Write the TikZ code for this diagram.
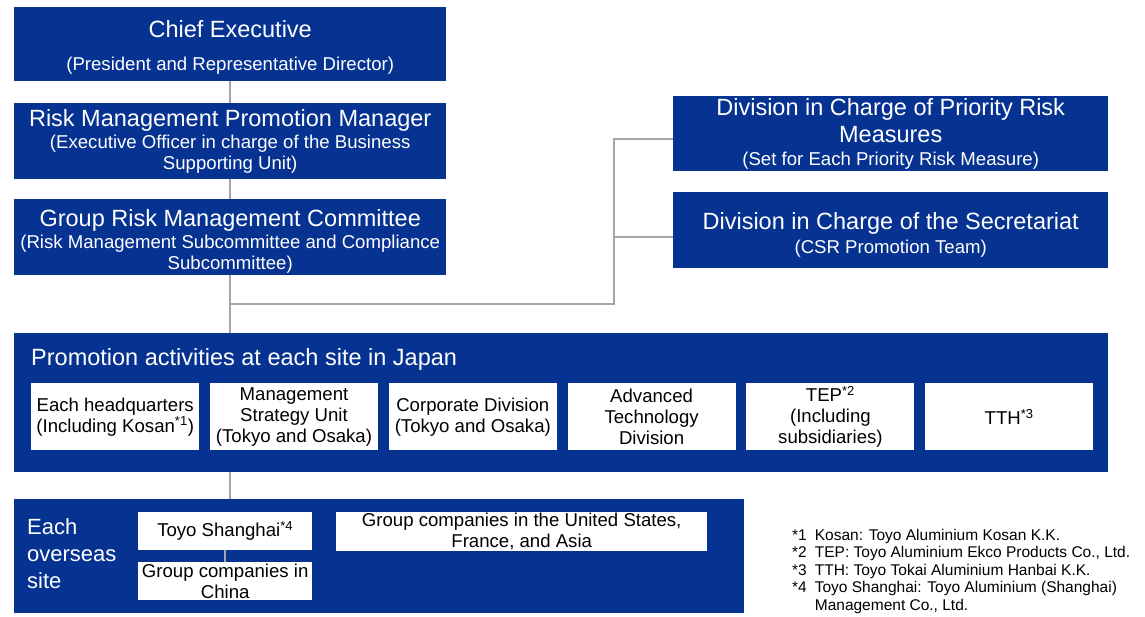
\documentclass[tikz,border=0pt]{standalone}
\usepackage{fontspec}
\setmainfont{Liberation Sans}
\usetikzlibrary{positioning}
\definecolor{riskblue}{RGB}{6,50,145}
\definecolor{linkgray}{RGB}{166,166,166}
\newcommand{\headfont}{\fontsize{23.5}{28}\selectfont}
\newcommand{\subfont}{\fontsize{18.6}{21}\selectfont}
\newcommand{\notefont}{\fontsize{15.5}{17.5}\selectfont}
% taller first line, pushes the text block down inside its box
\newcommand{\topstrut}[1]{\rule{0pt}{#1}}

\begin{document}
\begin{tikzpicture}[x=1pt, y=-1pt,
    bluebox/.style={fill=riskblue, text=white, inner sep=1pt, align=center,
        font=\subfont, anchor=north west},
    whitebox/.style={fill=white, text=black, inner sep=1pt, align=center,
        font=\subfont, anchor=north west},
    unitbox/.style={whitebox, minimum width=168pt, minimum height=67pt},
    link/.style={draw=linkgray, line width=2pt}]
\useasboundingbox (0,0) rectangle (1145,616);
    % management chain
    \node[bluebox, minimum width=432pt, minimum height=74pt] (chief) at (14,7)
        {{\headfont\topstrut{23pt}Chief Executive}\\[12pt](President and Representative Director)};
    \node[bluebox, minimum width=432pt, minimum height=76pt] (riskmgr) at (14,103)
        {{\headfont Risk Management Promotion Manager}\\[1pt]
         (Executive Officer in charge of the Business\\Supporting Unit)};
    \node[bluebox, minimum width=432pt, minimum height=76pt] (committee) at (14,199)
        {{\headfont\topstrut{26pt}Group Risk Management Committee}\\[1pt]
         (Risk Management Subcommittee and Compliance\\Subcommittee)};
    % divisions on the right
    \node[bluebox, minimum width=435pt, minimum height=75pt] (prioritydiv) at (673,96)
        {{\headfont Division in Charge of Priority Risk}\\[5pt]
         {\headfont Measures}\\[2pt](Set for Each Priority Risk Measure)};
    \node[bluebox, minimum width=435pt, minimum height=76pt] (secretariat) at (673,192)
        {{\headfont\topstrut{27pt}Division in Charge of the Secretariat}\\[3pt](CSR Promotion Team)};
    % sites in Japan
    \node[bluebox, minimum width=1094pt, minimum height=139pt] (japan) at (14,333) {};
    \node[text=white, font=\headfont, inner sep=0pt, anchor=north west] (japantitle)
        at (31,348) {Promotion activities at each site in Japan};
    \node[unitbox] (hq) at (31,383)
        {Each headquarters\\(Including Kosan\textsuperscript{*1})};
    \node[unitbox, right=10.4pt of hq] (strategy)
        {Management\\Strategy Unit\\(Tokyo and Osaka)};
    \node[unitbox, right=10.4pt of strategy] (corporate)
        {Corporate Division\\(Tokyo and Osaka)};
    \node[unitbox, right=10.4pt of corporate] (advtech)
        {Advanced\\Technology\\Division};
    \node[unitbox, right=10.4pt of advtech] (tep)
        {TEP\textsuperscript{*2}\\(Including\\subsidiaries)};
    \node[unitbox, right=10.4pt of tep] (tth) {TTH\textsuperscript{*3}};
    % overseas sites
    \node[bluebox, minimum width=730pt, minimum height=114pt] (overseas) at (14,499) {};
    \node[text=white, font={\fontsize{22}{27}\selectfont}, inner sep=0pt, align=left,
        anchor=north west] (overseastitle) at (27,518) {Each\\overseas\\site};
    \node[whitebox, minimum width=174pt, minimum height=38pt] (shanghai) at (138,512)
        {Toyo Shanghai\textsuperscript{*4}};
    \node[whitebox, minimum width=174pt, minimum height=38pt] (china) at (138,562)
        {Group companies in\\China};
    \node[whitebox, minimum width=371pt, minimum height=38pt] (usfa) at (336,512)
        {Group companies in the United States,\\France, and Asia};
    % connectors
    \coordinate (fork) at (614,304);
    \coordinate (priorityin) at ([yshift=-5.5pt]prioritydiv.west);
    \coordinate (secretariatin) at ([yshift=-7pt]secretariat.west);
    \draw[link] (chief) -- (riskmgr);
    \draw[link] (riskmgr) -- (committee);
    \draw[link] (committee.south) -- (committee.south |- japan.north);
    \draw[link] (committee.south |- fork) -- (fork) |- (priorityin);
    \draw[link] (secretariatin) -- (secretariatin -| fork);
    \draw[link] (japan.south -| committee.south) -- (overseas.north -| committee.south);
    \draw[link] (shanghai) -- (china);
    % notes
    \node[font=\notefont, inner sep=0pt, anchor=north west] (notes) at (792,528)
        {\begin{tabular}{@{}l@{\hspace{8pt}}l@{}}
         {*}1 & Kosan: Toyo Aluminium Kosan K.K.\\
         {*}2 & TEP: Toyo Aluminium Ekco Products Co., Ltd.\\
         {*}3 & TTH: Toyo Tokai Aluminium Hanbai K.K.\\
         {*}4 & Toyo Shanghai: Toyo Aluminium (Shanghai)\\
            & Management Co., Ltd.
         \end{tabular}};
\end{tikzpicture}
\end{document}
